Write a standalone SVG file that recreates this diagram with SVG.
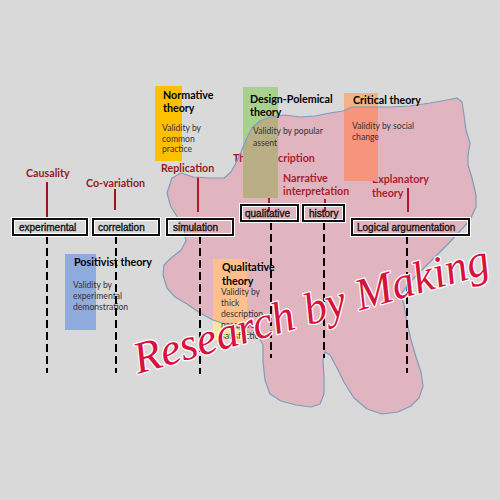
<svg xmlns="http://www.w3.org/2000/svg" width="500" height="500" viewBox="0 0 500 500">
<style>
.red{font-family:Lato,"Liberation Sans",sans-serif;font-weight:bold;font-size:10.7px;fill:#951B22}
.rl{stroke:#A0141E;stroke-width:2;fill:none}
.ttl{font-family:Lato,"Liberation Sans",sans-serif;font-weight:bold;font-size:10.7px;fill:#000}
.body{font-family:Lato,"Liberation Sans",sans-serif;font-size:8.6px;fill:#333}
.lb{font-family:"Liberation Sans",Arial,sans-serif;font-size:10px;fill:#111;stroke:#111;stroke-width:0.35}
.bh{fill:none;stroke:#fff;stroke-width:4}
.bx{fill:none;stroke:#111;stroke-width:2}
.dash{stroke:#000;stroke-width:2;stroke-dasharray:8 4;fill:none}
.script{font-family:"Liberation Serif","DejaVu Serif",serif;font-style:italic;font-size:45px;fill:#D8123E;stroke:#fff;stroke-width:2.5;paint-order:stroke;stroke-linejoin:round}
</style>
<rect x="0" y="0" width="500" height="500" fill="#D9D9D9"/>

<g id="red-labels">
<text class="red" x="26" y="177">Causality</text>
<text class="red" x="86" y="187">Co-variation</text>
<text class="red" x="161" y="172">Replication</text>
<text class="red" x="233" y="162">Thick description</text>
<text class="red" x="283" y="182">Narrative</text>
<text class="red" x="283" y="195">interpretation</text>
<text class="red" x="372" y="183">Explanatory</text>
<text class="red" x="372" y="197">theory</text>
</g>

<g id="connectors">
<line class="rl" x1="47" y1="182" x2="47" y2="218"/>
<line class="rl" x1="115" y1="189" x2="115" y2="210"/>
<line class="rl" x1="198" y1="177" x2="198" y2="212"/>
<line class="rl" x1="269" y1="166" x2="269" y2="211"/>
<line class="rl" x1="325" y1="199" x2="325" y2="211"/>
<line class="rl" x1="408" y1="188" x2="408" y2="212"/>
</g>

<g id="theory-rects">
<rect x="155" y="86" width="27" height="75" fill="#FFC000"/>
<rect x="243" y="87" width="35" height="111" fill="#A9D18E"/>
<rect x="344" y="93" width="34" height="88" fill="#F4B183"/>
<rect x="65" y="254" width="31" height="76" fill="#8FAADC"/>
<rect x="213" y="259" width="34" height="81" fill="#FFE699"/>
</g>

<path id="blob" d="M172,178 L181,173 193,177 210,178 224,178 231,172 236,163 241,152 246,140 252,128 260,121 270,117 285,115 300,117 315,116 330,113 343,111 352,107 370,107 390,107 410,106 430,103 447,100 457,98 462,102 464,115 466,130 470,143 468,155 468,165 472,178 476,195 476,207 470,220 460,231 448,244 436,256 422,270 410,282 401,294 404,305 407,322 411,340 416,357 421,372 423,386 419,398 411,406 398,412 382,414 367,409 354,398 344,382 336,366 330,355 325,352 323,360 324,378 324,394 320,404 311,407 296,405 281,401 270,394 265,380 263,362 263,345 258,336 245,331 228,325 213,320 200,313 187,304 175,297 167,288 163,275 164,265 170,259 181,250 186,241 184,230 178,218 171,207 167,193 Z" fill="#FF2A61" fill-opacity="0.2" stroke="#7F9DBB" stroke-width="1.2" stroke-linejoin="round"/>

<g id="normative">
<text class="ttl" x="163" y="99">Normative</text>
<text class="ttl" x="163" y="112">theory</text>
<text class="body" x="162" y="131">Validity by</text>
<text class="body" x="162" y="142">common</text>
<text class="body" x="162" y="152">practice</text>
</g>
<g id="design-polemical">
<text class="ttl" x="250" y="103">Design-Polemical</text>
<text class="ttl" x="250" y="116">theory</text>
<text class="body" x="253" y="134">Validity by popular</text>
<text class="body" x="253" y="146">assent</text>
</g>
<g id="critical">
<text class="ttl" x="353" y="104">Critical theory</text>
<text class="body" x="352" y="129">Validity by social</text>
<text class="body" x="352" y="140">change</text>
</g>
<g id="positivist">
<text class="ttl" x="74" y="266">Positivist theory</text>
<text class="body" x="73" y="288">Validity by</text>
<text class="body" x="73" y="299">experimental</text>
<text class="body" x="73" y="310">demonstration</text>
</g>
<g id="qualitative-theory">
<text class="ttl" x="222" y="271">Qualitative</text>
<text class="ttl" x="222" y="285">theory</text>
<text class="body" x="221" y="295">Validity by</text>
<text class="body" x="221" y="306">thick</text>
<text class="body" x="221" y="317">description</text>
<text class="body" x="221" y="328">narrative</text>
<text class="body" x="221" y="339">satisfaction</text>
</g>

<g id="dashed-lines">
<line class="dash" x1="47" y1="236" x2="47" y2="373"/>
<line class="dash" x1="116" y1="236" x2="116" y2="373"/>
<line class="dash" x1="200" y1="236" x2="200" y2="374"/>
<line class="dash" x1="271" y1="222" x2="271" y2="358"/>
<line class="dash" x1="324" y1="222" x2="324" y2="358"/>
<line class="dash" x1="407" y1="236" x2="407" y2="373"/>
</g>

<g id="experimental"><rect class="bh" x="13" y="219" width="74" height="16"/><rect class="bx" x="13" y="219" width="74" height="16"/><text class="lb" x="19" y="230.5">experimental</text></g>
<g id="correlation"><rect class="bh" x="93" y="219" width="66" height="16"/><rect class="bx" x="93" y="219" width="66" height="16"/><text class="lb" x="98" y="230.5">correlation</text></g>
<g id="simulation"><rect class="bh" x="167" y="219" width="66" height="16"/><rect class="bx" x="167" y="219" width="66" height="16"/><text class="lb" x="173" y="230.5">simulation</text></g>
<g id="qualitative"><rect class="bh" x="241" y="205" width="57" height="16"/><rect class="bx" x="241" y="205" width="57" height="16"/><text class="lb" x="245" y="216.5">qualitative</text></g>
<g id="history"><rect class="bh" x="303" y="205" width="41" height="16"/><rect class="bx" x="303" y="205" width="41" height="16"/><text class="lb" x="309" y="216.5">history</text></g>
<g id="logical"><rect class="bh" x="352" y="219" width="117" height="16"/><rect class="bx" x="352" y="219" width="117" height="16"/><text class="lb" x="357" y="230.5">Logical argumentation</text></g>

<text class="script" x="138" y="374" transform="rotate(-16 138 374)">Research by Making</text>
</svg>
